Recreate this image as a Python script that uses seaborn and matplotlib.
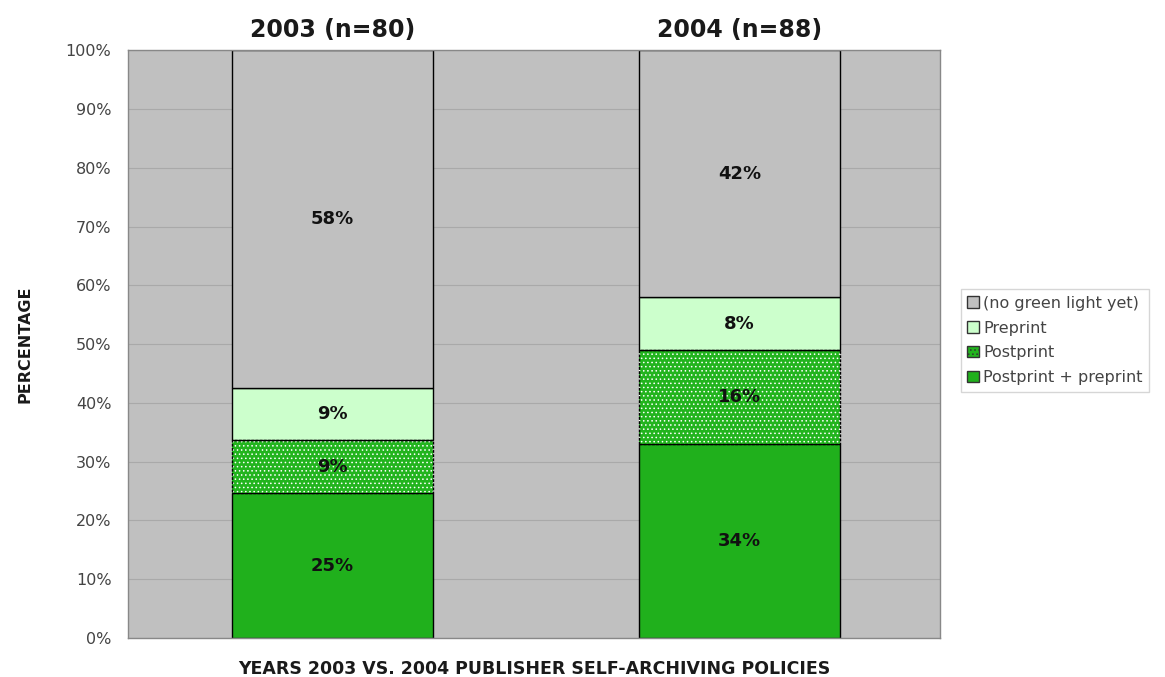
import numpy as np
import pandas as pd
import seaborn as sns
import matplotlib
matplotlib.use('Agg')
import matplotlib.pyplot as plt

# data
years = ['2003 (n=80)', '2004 (n=88)']
both = [24.6, 33.0]          # Postprint + preprint
postprint = [9.1, 16.0]
preprint = [8.9, 9.0]
no_green = [57.4, 42.0]      # (no green light yet)
both_lbl = ['25%', '34%']
post_lbl = ['9%', '16%']
pre_lbl = ['9%', '8%']
none_lbl = ['58%', '42%']

layers = [
    ('Postprint + preprint', both, both_lbl, '#20b01c', None),
    ('Postprint', postprint, post_lbl, '#22b41e', '....'),
    ('Preprint', preprint, pre_lbl, '#ccffcc', None),
    ('(no green light yet)', no_green, none_lbl, '#c0c0c0', None),
]

sns.set_style('white')
plt.rcParams['font.family'] = ['DejaVu Sans']
plt.rcParams['font.sans-serif'] = ['DejaVu Sans']
plt.rcParams['hatch.color'] = 'white'
plt.rcParams['hatch.linewidth'] = 0.6

fig = plt.figure(figsize=(11.65, 6.77), dpi=100)
ax = fig.add_axes([0.110, 0.0576, 0.697, 0.868])
ax.set_facecolor('#c0c0c0')

bottom = np.zeros(len(years))
handles = []
for name, vals, lbls, color, hatch in layers:
    df = pd.DataFrame({'year': years, 'value': vals})
    sns.barplot(data=df, x='year', y='value', ax=ax, color=color, width=0.494,
                bottom=bottom, hatch=hatch, edgecolor='black', linewidth=1.0,
                saturation=1)
    bars = ax.containers[-1]
    if hatch:
        # keep the hatch white while outline is black
        for b in bars:
            b.set_edgecolor('white')
            b.set_linewidth(0)
            ax.add_patch(plt.Rectangle(b.get_xy(), b.get_width(), b.get_height(),
                                       fill=False, edgecolor='black', lw=1.0,
                                       linestyle=(0, (2, 1)), zorder=b.get_zorder() + 0.1))
    ax.bar_label(bars, labels=lbls, label_type='center', fontsize=13,
                 fontweight='bold', color='#111111', family='DejaVu Sans')
    handles.append(plt.Rectangle((0, 0), 1, 1, facecolor=color, edgecolor='#333333',
                                 hatch=hatch, lw=1.0, label=name))
    bottom = bottom + np.array(vals)

ax.set_ylim(0, 100)
ax.set_xlim(-0.503, 1.494)
ax.set_yticks(np.arange(0, 101, 10))
ax.set_yticklabels([f'{v}%' for v in range(0, 101, 10)], fontsize=11.5, color='#444444',
                   family='DejaVu Sans')
ax.yaxis.grid(True, color='#a9a9a9', lw=0.8)
ax.set_axisbelow(True)
ax.tick_params(axis='y', length=3, color='#888888', pad=9)

ax.xaxis.set_ticks_position('top')
ax.tick_params(axis='x', length=0, labelsize=17, pad=6)
for t in ax.get_xticklabels():
    t.set_fontweight('bold')
    t.set_color('#1a1a1a')
    t.set_family('DejaVu Sans')
ax.xaxis.set_label_position('bottom')
ax.set_xlabel('YEARS 2003 VS. 2004 PUBLISHER SELF-ARCHIVING POLICIES',
              fontsize=12.5, fontweight='bold', color='#1a1a1a', labelpad=16,
              family='DejaVu Sans')
ax.set_ylabel('PERCENTAGE', fontsize=11.5, fontweight='bold', color='#1a1a1a', labelpad=24,
              family='DejaVu Sans')

for s in ax.spines.values():
    s.set_color('#888888')
    s.set_linewidth(1.0)

leg = fig.legend(handles=handles[::-1], loc='center left', bbox_to_anchor=(0.818, 0.497),
                 prop={'family': 'DejaVu Sans', 'size': 11.5}, frameon=True,
                 handlelength=0.7, handleheight=0.7,
                 handletextpad=0.3, labelspacing=0.62, borderpad=0.4,
                 labelcolor='#444444')
leg.get_frame().set_edgecolor('#cccccc')
leg.get_frame().set_linewidth(1.0)
leg.get_frame().set_boxstyle('square', pad=0)

fig.savefig('out.png', dpi=100)
